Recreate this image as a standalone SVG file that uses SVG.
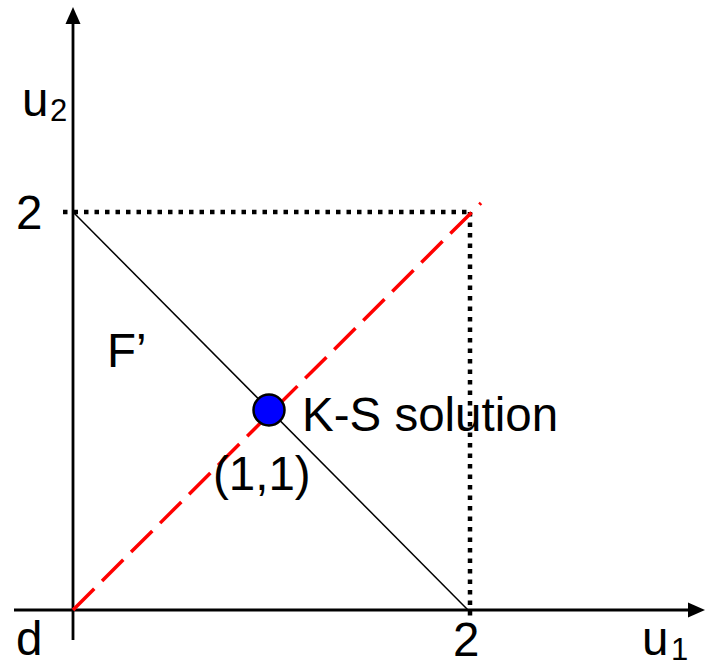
<svg xmlns="http://www.w3.org/2000/svg" width="705" height="666" viewBox="0 0 705 666">
<style>
text{font-family:"Liberation Sans",Arial,sans-serif;font-size:47.5px;fill:#000}
.sub{font-size:31px}
.axis{stroke:#000;stroke-width:2.8;fill:none}
.dot{stroke:#000;stroke-width:4.5;stroke-dasharray:4.5 6;fill:none}
.red{stroke:#ff0000;stroke-width:3.5;stroke-dasharray:30 11;fill:none}
</style>
<rect width="705" height="666" fill="#fff"/>
<g id="connectors">
<line class="axis" x1="73" y1="640" x2="73" y2="22"/>
<polygon points="73,7 65.5,24 80.5,24" fill="#000"/>
<line class="axis" x1="14" y1="610" x2="690" y2="610"/>
<polygon points="705,610 688,602.5 688,617.5" fill="#000"/>
<line class="dot" x1="63" y1="212" x2="470" y2="212"/>
<line class="dot" x1="470" y1="212" x2="470" y2="620"/>
<line x1="73" y1="212" x2="468" y2="610" stroke="#000" stroke-width="1.5"/>
<line class="red" x1="73" y1="610" x2="481" y2="203"/>
</g>
<g id="ks-point">
<circle cx="269" cy="410" r="15.5" fill="#0000ff" stroke="#000" stroke-width="2.5"/>
</g>
<g id="labels">
<text x="22" y="116">u</text><text class="sub" x="50" y="121">2</text>
<text x="16" y="229">2</text>
<text x="107" y="367">F’</text>
<text x="302" y="431">K-S solution</text>
<text x="213" y="490">(1,1)</text>
<text x="16" y="655">d</text>
<text x="453" y="656">2</text>
<text x="642" y="655">u</text><text class="sub" x="671" y="660">1</text>
</g>
</svg>
